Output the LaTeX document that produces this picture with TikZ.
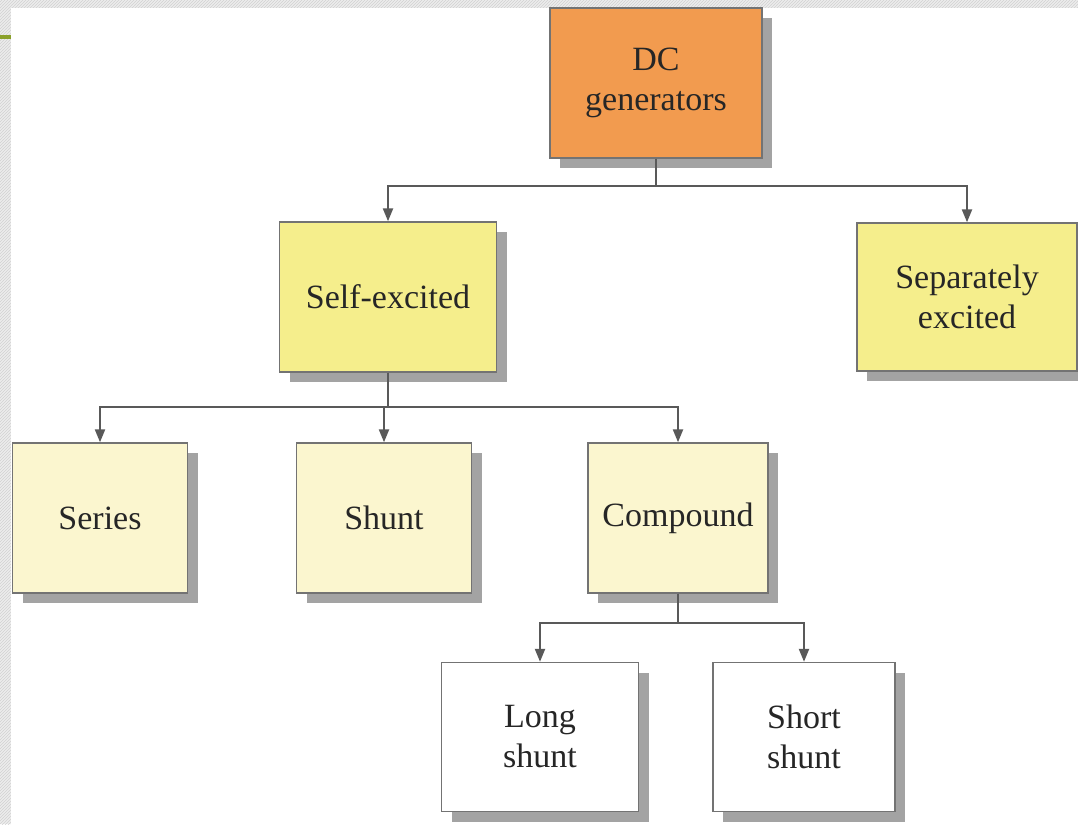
\documentclass[tikz,border=0pt]{standalone}
\usepackage{fontspec}
\setmainfont{Liberation Serif}
\usepackage{xcolor}
\usepackage{tikz}
\usetikzlibrary{shadows}
\usetikzlibrary{arrows.meta}
\usetikzlibrary{patterns}
\definecolor{dcorange}{HTML}{F29B4F}
\definecolor{selfyellow}{HTML}{F5EE8C}
\definecolor{paleyellow}{HTML}{FBF6CF}
\definecolor{slidegreen}{HTML}{8AA02A}

\begin{document}
\begin{tikzpicture}[
  x=1pt, y=-1pt,
  box/.style={draw=black!55, line width=1.4pt, inner sep=0pt, align=center,
    text=black!85, font=\fontsize{34}{40}\selectfont,
    drop shadow={shadow xshift=10pt, shadow yshift=-10pt, fill=black!45, opacity=0.8}},
  conn/.style={draw=black!65, line width=2.2pt, -{Triangle[length=13pt,width=10pt]}},
]
\useasboundingbox (0,0) rectangle (1078,824);

% slide background
\fill [black!7] (0,0) rectangle (1078,824);
\fill [pattern=north east lines, pattern color=black!18] (0,0) rectangle (1078,824);
\fill [white] (11,8) rectangle (1078,830);
\draw [slidegreen, line width=3.5pt] (0,37) -- (11,37);

% boxes
\node [box, fill=dcorange, minimum width=212pt, minimum height=150pt] (dc) at (656,83) {DC\\generators};

\node [box, fill=selfyellow, minimum width=217pt, minimum height=150pt] (self) at (388,297) {Self-excited};
\node [box, fill=selfyellow, minimum width=220pt, minimum height=148pt] (sep) at (967,297) {Separately\\excited};

\node [box, fill=paleyellow, minimum width=175pt, minimum height=150pt] (series) at (100,518) {Series};
\node [box, fill=paleyellow, minimum width=175pt, minimum height=150pt] (shunt) at (384,518) {Shunt};
\node [box, fill=paleyellow, minimum width=180pt, minimum height=150pt] (comp) at (678,518) {Compound};

\node [box, fill=white, minimum width=197pt, minimum height=149pt] (long) at (540,737) {Long\\shunt};
\node [box, fill=white, minimum width=182pt, minimum height=149pt] (short) at (804,737) {Short\\shunt};

% branch points
\coordinate (b1) at (656,186);
\coordinate (b2) at (388,407);
\coordinate (b3) at (678,623);

% connectors
\draw [conn] (dc.south) -- (b1) -| (self.north);
\draw [conn] (b1) -| (sep.north);

\draw [conn] (self.south) -- (b2) -| (series.north);
\draw [conn] (b2) -| (shunt.north);
\draw [conn] (b2) -| (comp.north);

\draw [conn] (comp.south) -- (b3) -| (long.north);
\draw [conn] (b3) -| (short.north);
\end{tikzpicture}
\end{document}
